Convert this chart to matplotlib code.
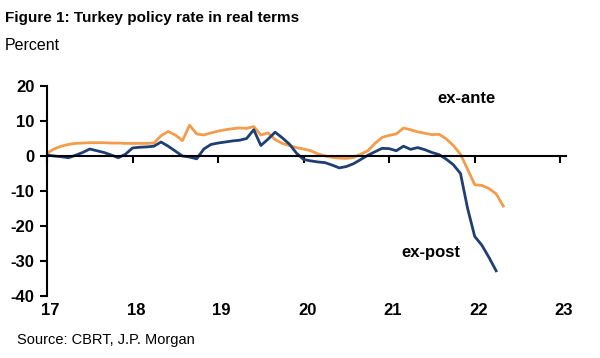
import numpy as np
import matplotlib.pyplot as plt
from matplotlib import font_manager

# monthly values, Jan 2017 onwards
ex_ante = [0.8, 2.0, 2.8, 3.3, 3.6, 3.7, 3.8, 3.8, 3.8, 3.7, 3.7, 3.6,
           3.6, 3.6, 3.6, 3.7, 5.8, 7.0, 6.0, 4.4, 8.8, 6.3, 6.0, 6.6,
           7.1, 7.5, 7.8, 8.0, 7.9, 8.4, 6.0, 6.6, 4.7, 3.6, 3.0, 2.4,
           2.0, 1.5, 0.6, 0.0, -0.4, -0.6, -0.7, -0.4, 0.5, 1.5, 3.6, 5.3,
           5.9, 6.3, 8.0, 7.5, 6.9, 6.5, 6.1, 6.2, 4.9, 3.0, 0.5, -3.8,
           -8.2, -8.4, -9.3, -10.8, -14.3]
ex_post = [0.3, 0.0, -0.2, -0.5, 0.2, 1.0, 2.0, 1.5, 1.0, 0.3, -0.5, 0.5,
           2.3, 2.5, 2.6, 2.8, 4.0, 2.8, 1.4, 0.0, -0.3, -0.8, 2.0, 3.3,
           3.7, 4.0, 4.3, 4.5, 5.0, 7.5, 3.0, 4.8, 6.8, 5.2, 3.4, 0.8,
           -1.0, -1.4, -1.7, -1.9, -2.6, -3.4, -3.0, -2.2, -1.0, 0.2, 1.2, 2.2,
           2.1, 1.5, 2.8, 1.9, 2.4, 1.8, 1.0, 0.4, -0.9, -2.5, -5.0, -15.0,
           -23.0, -25.5, -29.0, -32.8]
year_labels = ['17', '18', '19', '20', '21', '22', '23']
y_ticks = [20, 10, 0, -10, -20, -30, -40]

names = {f.name for f in font_manager.fontManager.ttflist}
narrow = 'Liberation Sans Narrow' if 'Liberation Sans Narrow' in names else 'Liberation Sans'
plt.rcParams['font.family'] = [narrow, 'DejaVu Sans']

fig = plt.figure(figsize=(6, 3.58), dpi=100)
ax = fig.add_axes([47/600, 1 - 296/358, (566 - 47)/600, 210/358])

orange = '#F29C4C'
navy = '#1F3E72'
ax.plot(np.arange(len(ex_ante)), ex_ante, color=orange, lw=2.0, solid_joinstyle='round')
ax.plot(np.arange(len(ex_post)), ex_post, color=navy, lw=2.0, solid_joinstyle='round')

ax.set_xlim(0, 72.8)
ax.set_ylim(-40, 20)

for s in ['top', 'right']:
    ax.spines[s].set_visible(False)
ax.spines['bottom'].set_position(('data', 0))
ax.spines['bottom'].set_linewidth(1.5)
ax.spines['left'].set_linewidth(1.5)

ax.set_xticks(np.arange(len(year_labels)) * 12)
ax.tick_params(axis='x', direction='out', length=5, width=1.5, labelbottom=False)
ax.set_yticks(y_ticks)
ax.set_yticklabels([str(v) for v in y_ticks], fontsize=12, fontweight='bold')
ax.tick_params(axis='y', direction='out', length=5, width=1.5, pad=4)

for i, lab in enumerate(year_labels):
    ax.text(i * 12 + 0.5, -44.2, lab, ha='center', va='center',
            fontsize=12, fontweight='bold')

ax.text(58.8, 16.3, 'ex-ante', ha='center', va='center', fontsize=12, fontweight='bold')
ax.text(53.8, -27.7, 'ex-post', ha='center', va='center', fontsize=12, fontweight='bold')

fig.text(5/600, 1 - 18/358, 'Figure 1: Turkey policy rate in real terms',
         ha='left', va='center', fontsize=11, fontweight='bold')
fig.text(5/600, 1 - 45/358, 'Percent', ha='left', va='center', fontsize=11.5)
fig.text(17/600, 1 - 340/358, 'Source: CBRT, J.P. Morgan', ha='left', va='center', fontsize=10.5)

fig.savefig('out.png', dpi=100)
